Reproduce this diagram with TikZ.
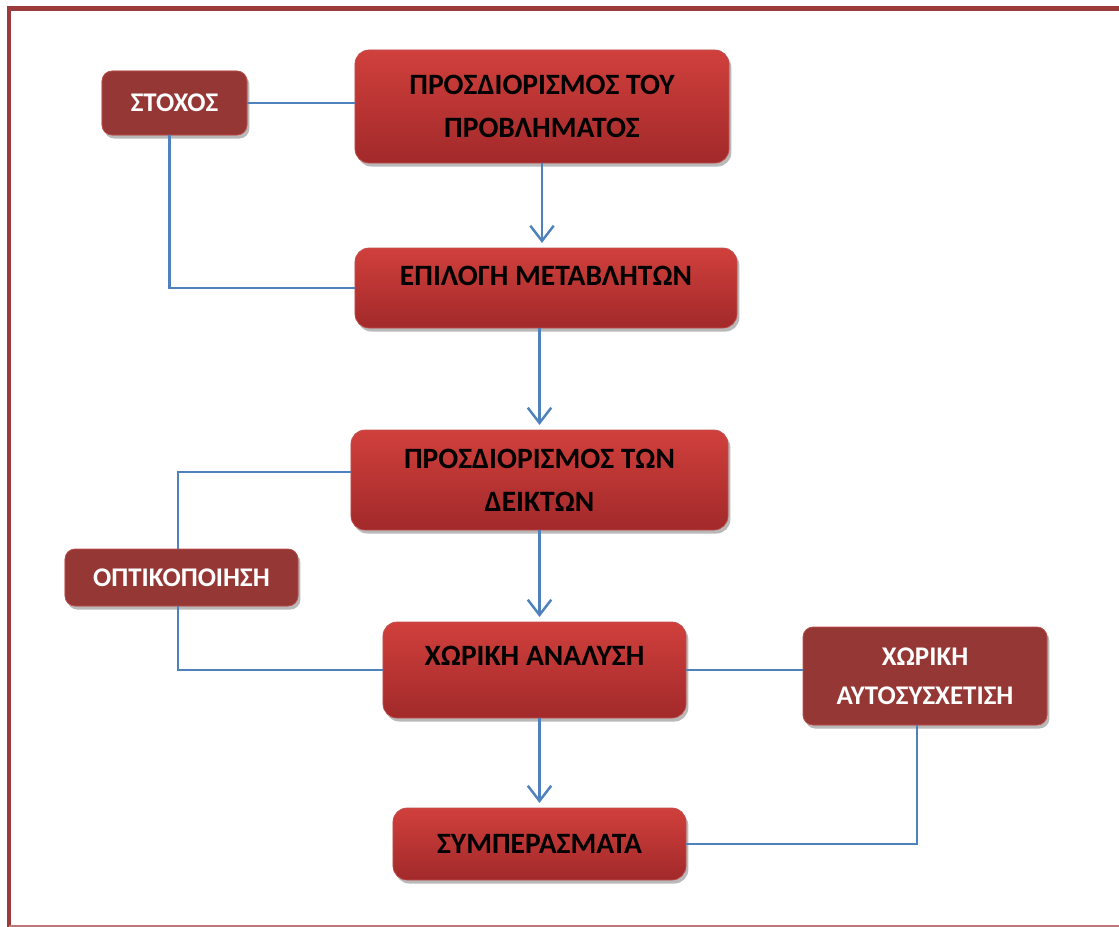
\documentclass[tikz,border=0pt]{standalone}
\usepackage{fontspec}
\setmainfont{Carlito}
\usetikzlibrary{arrows.meta,shadows}
\definecolor{boxtop}{HTML}{D0403C}
\definecolor{boxbottom}{HTML}{A2292A}
\definecolor{boxedge}{HTML}{C0504D}
\definecolor{boxdark}{HTML}{953735}
\definecolor{linkblue}{HTML}{4F81BD}
\definecolor{framered}{HTML}{9B3B3B}
\definecolor{framelight}{HTML}{C27676}

\begin{document}
\begin{tikzpicture}[x=0.03cm,y=-0.03cm,
  main node/.style={rounded corners=0.42cm,top color=boxtop,bottom color=boxbottom,draw=boxedge,line width=0.6pt,
    drop shadow={shadow xshift=2pt,shadow yshift=-3pt,fill=black!55,opacity=0.5},
    inner sep=0pt,align=center,text=black,font=\fontsize{25.2}{36.5}\selectfont\bfseries},
  side node/.style={main node,rounded corners=0.3cm,fill=boxdark,top color=boxdark,bottom color=boxdark,
    text=white,font=\fontsize{23}{33}\selectfont\bfseries},
  link/.style={draw=linkblue,line width=2.1pt},
  arrow/.style={link,-{Straight Barb[length=13pt,width=20pt,line width=2.1pt]},shorten >=4pt}]

  \useasboundingbox (0,0) rectangle (1119,927);
  \draw[framered,line width=4.2pt] (1119,8.5) -- (9,8.5) -- (9,927);
  \draw[framelight,line width=1.3pt] (9,926) -- (1119,926);

  \node[main node,minimum width=11.22cm,minimum height=3.39cm] (problem) at (542,106.5) {ΠΡΟΣΔΙΟΡΙΣΜΟΣ ΤΟΥ\\ΠΡΟΒΛΗΜΑΤΟΣ};
  \node[main node,minimum width=11.46cm,minimum height=2.4cm,text depth=0.72cm] (select) at (546,288) {ΕΠΙΛΟΓΗ ΜΕΤΑΒΛΗΤΩΝ};
  \node[main node,minimum width=11.31cm,minimum height=3.0cm] (indices) at (539.5,480) {ΠΡΟΣΔΙΟΡΙΣΜΟΣ ΤΩΝ\\ΔΕΙΚΤΩΝ};
  \node[main node,minimum width=9.09cm,minimum height=2.88cm,text depth=0.85cm] (spatial) at (534.5,670) {ΧΩΡΙΚΗ ΑΝΑΛΥΣΗ};
  \node[main node,minimum width=8.79cm,minimum height=2.16cm] (concl) at (539.5,844) {ΣΥΜΠΕΡΑΣΜΑΤΑ};
  \node[side node,minimum width=4.35cm,minimum height=1.92cm] (goal) at (174.5,103) {ΣΤΟΧΟΣ};
  \node[side node,minimum width=6.99cm,minimum height=1.71cm] (visual) at (181.5,577.5) {ΟΠΤΙΚΟΠΟΙΗΣΗ};
  \node[side node,minimum width=7.32cm,minimum height=2.94cm] (autocorr) at (925,676) {ΧΩΡΙΚΗ\\ΑΥΤΟΣΥΣΧΕΤΙΣΗ};

  \draw[link] (goal.east) -- (goal.east -| problem.west);
  \draw[link] ([xshift=-0.15cm]goal.south) |- (select.west);
  \draw[link] ([yshift=0.24cm]indices.west) -| ([xshift=-0.1cm]visual.north);
  \draw[link] ([xshift=-0.1cm]visual.south) |- (spatial.west);
  \draw[link] (spatial.east) -- (spatial.east -| autocorr.west);
  \draw[link] ([xshift=-0.24cm]autocorr.south) |- (concl.east);

  \draw[arrow] (problem.south) -- (problem.south |- select.north);
  \draw[arrow] (indices.south |- select.south) -- (indices.south |- indices.north);
  \draw[arrow] (indices.south) -- (indices.south |- spatial.north);
  \draw[arrow] (concl.north |- spatial.south) -- (concl.north);
\end{tikzpicture}
\end{document}
